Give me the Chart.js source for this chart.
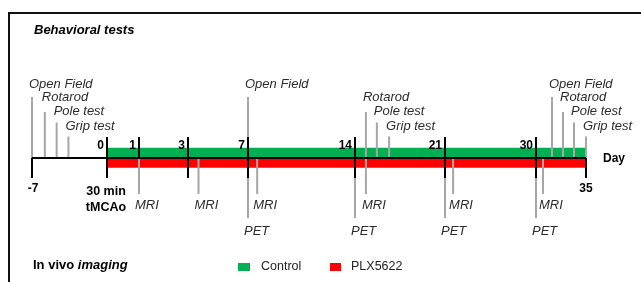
<!DOCTYPE html>
<html>
<head>
<meta charset="utf-8">
<script src="https://cdn.jsdelivr.net/npm/chart.js@4.4.1/dist/chart.umd.min.js"></script>
<style>
  html, body { margin: 0; padding: 0; background: #fff; }
  #wrap { width: 641px; height: 282px; }
</style>
</head>
<body>
<div id="wrap"><canvas id="timeline" width="641" height="282"></canvas></div>
<script>
// ---- data ----
const tickDays = [-7, 0, 1, 3, 7, 14, 21, 30, 35];
const tickLabels = ['-7', '0', '1', '3', '7', '14', '21', '30', '35'];
const testNames = ['Open Field', 'Rotarod', 'Pole test', 'Grip test',
                   'Open Field',
                   'Rotarod', 'Pole test', 'Grip test',
                   'Open Field', 'Rotarod', 'Pole test', 'Grip test'];
const testDays = [-7, -5.8, -4.7, -3.6, 7, 14.85, 15.7, 16.65, 31.6, 32.7, 33.8, 35];
const mriDays = [1, 3.7, 7.6, 14.85, 21.8, 30.7];
const petDays = [7, 14, 21, 30];
const groups = ['Control', 'PLX5622'];
const treatStart = 0;
const treatEnd = 35;

// ---- layout ----
// the drawing is not to scale: where each tick day sits across the width
const axisStops = [32, 107, 139, 188, 248, 355, 445, 536, 586].map(p => p / 641);
// heights in px above (+) or below (-) the axis line
const testLevel = { 'Open Field': 61, 'Rotarod': 46, 'Pole test': 35.5, 'Grip test': 21.5 };
const testLabelLevel = { 'Open Field': 74, 'Rotarod': 61, 'Pole test': 47, 'Grip test': 32 };
const groupColors = ['#00b050', '#ff0000'];
const grey = '#a6a6a6';

// piecewise linear day axis
class TimelineScale extends Chart.LinearScale {
  getPixelForValue(value) {
    if (value === null || value === undefined || isNaN(value)) return NaN;
    let i = 1;
    while (i < tickDays.length - 1 && value > tickDays[i]) i++;
    const t = (value - tickDays[i - 1]) / (tickDays[i] - tickDays[i - 1]);
    const f = axisStops[i - 1] + t * (axisStops[i] - axisStops[i - 1]);
    return this.left + f * this.width;
  }
}
TimelineScale.id = 'timeline';
TimelineScale.defaults = Chart.LinearScale.defaults;
Chart.register(TimelineScale);

// grey event lines
const greyPts = [];
testDays.forEach((d, i) => greyPts.push({x: d, y: testLevel[testNames[i]]}, {x: d, y: 0}, {x: d, y: null}));
mriDays.forEach(d => greyPts.push({x: d, y: 0}, {x: d, y: -36}, {x: d, y: null}));
petDays.forEach(d => greyPts.push({x: d, y: 0}, {x: d, y: -60}, {x: d, y: null}));

// black axis and tick marks
const blackPts = [{x: tickDays[0], y: 0}, {x: treatEnd, y: 0}, {x: 0, y: null}];
tickDays.forEach(d => {
  let top = 21, bottom = -20;
  if (d === -7 || d === 35) top = 0;
  if (d === 1) bottom = 1;
  blackPts.push({x: d, y: top}, {x: d, y: bottom}, {x: d, y: null});
});

const labelsPlugin = {
  id: 'labels',
  beforeDraw(chart) {
    const c = chart.ctx;
    c.save();
    c.fillStyle = '#fff';
    c.fillRect(0, 0, chart.width, chart.height);
    c.restore();
  },
  afterDatasetsDraw(chart) {
    const c = chart.ctx;
    const px = d => chart.scales.x.getPixelForValue(d);
    const py = v => chart.scales.y.getPixelForValue(v);
    c.save();
    c.strokeStyle = '#111';
    c.lineWidth = 2;
    c.strokeRect(9, 13, 700, 400);

    c.textBaseline = 'middle';
    c.fillStyle = '#2b2b2b';
    c.font = 'italic 13px "Liberation Sans"';
    c.textAlign = 'left';
    testNames.forEach((n, i) => c.fillText(n, px(testDays[i]) - 3, py(testLabelLevel[n])));
    mriDays.forEach(d => c.fillText('MRI', px(d) - 4, py(-47)));
    petDays.forEach(d => c.fillText('PET', px(d) - 4, py(-73)));

    c.fillStyle = '#000';
    c.font = 'bold 12px "Liberation Sans"';
    tickDays.forEach((d, i) => {
      if (d === -7 || d === 35) {
        c.textAlign = 'center';
        c.fillText(tickLabels[i], px(d) + (d < 0 ? 1 : 0), py(-31));
      } else {
        c.textAlign = 'right';
        c.fillText(tickLabels[i], px(d) - 3, py(12));
      }
    });
    c.textAlign = 'left';
    c.fillText('Day', px(treatEnd) + 17, py(-1));

    c.font = 'bold 12.5px "Liberation Sans"';
    c.textAlign = 'center';
    c.fillText('30 min', px(0) - 1, py(-34));
    c.fillText('tMCAo', px(0) - 1, py(-50));

    c.textAlign = 'left';
    c.font = 'bold italic 13px "Liberation Sans"';
    c.fillText('Behavioral tests', 34, 30);
    c.font = 'bold 13px "Liberation Sans"';
    c.fillText('In vivo ', 33, 265);
    const w = c.measureText('In vivo ').width;
    c.font = 'bold italic 13px "Liberation Sans"';
    c.fillText('imaging', 33 + w, 265);

    // legend
    c.font = '12.5px "Liberation Sans"';
    c.fillStyle = groupColors[0];
    c.fillRect(238, 263, 12, 8);
    c.fillStyle = groupColors[1];
    c.fillRect(330, 263, 11, 8);
    c.fillStyle = '#222';
    c.fillText(groups[0], 261, 267);
    c.fillText(groups[1], 351, 267);
    c.restore();
  }
};

new Chart(document.getElementById('timeline'), {
  type: 'line',
  data: {
    datasets: [
      {
        type: 'bar',
        indexAxis: 'y',
        label: 'treatment',
        data: [{x: [treatStart, treatEnd], y: 5.5}, {x: [treatStart, treatEnd], y: -5}],
        backgroundColor: groupColors,
        borderWidth: 0,
        barThickness: 9,
        order: 3
      },
      {
        label: 'events',
        data: greyPts,
        borderColor: grey,
        borderWidth: 2,
        pointRadius: 0,
        spanGaps: false,
        tension: 0,
        order: 2
      },
      {
        label: 'axis',
        data: blackPts,
        borderColor: '#000',
        borderWidth: 2,
        pointRadius: 0,
        spanGaps: false,
        tension: 0,
        order: 1
      }
    ]
  },
  options: {
    responsive: false,
    animation: false,
    events: [],
    layout: { padding: 0, autoPadding: false },
    plugins: { legend: { display: false }, tooltip: { enabled: false } },
    scales: {
      x: { type: 'timeline', display: false, offset: false, min: -7, max: 35 },
      y: { type: 'linear', display: false, offset: false, grace: 0, min: -124, max: 158 }
    }
  },
  plugins: [labelsPlugin]
});
</script>
</body>
</html>
